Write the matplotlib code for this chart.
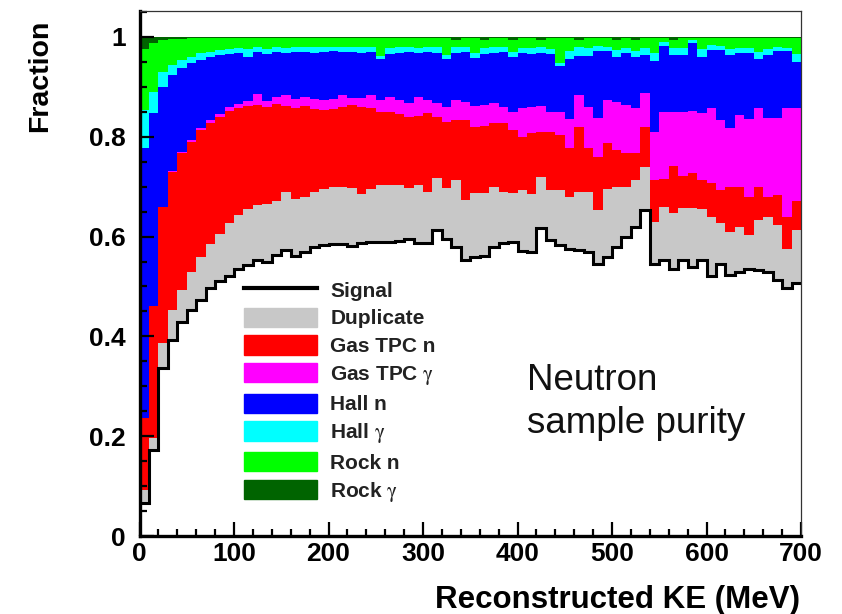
import numpy as np
import matplotlib
matplotlib.use("Agg")
import matplotlib.pyplot as plt
from matplotlib.patches import Patch
from matplotlib.lines import Line2D
from matplotlib.ticker import MultipleLocator, FuncFormatter

plt.rcParams["font.family"] = ["Liberation Sans", "DejaVu Sans"]
plt.rcParams["mathtext.fontset"] = "stix"

# 10 MeV bins from 0 to 700 MeV
bin_edges = np.arange(0, 701, 10)

# Cumulative fraction reached at the top of each stacked sample, per bin.
# Rock gamma fills the remainder up to 1.
top_signal = [
    0.067, 0.172, 0.336, 0.393, 0.429, 0.453, 0.473, 0.496, 0.510, 0.520,
    0.536, 0.543, 0.553, 0.550, 0.563, 0.573, 0.562, 0.569, 0.579, 0.583,
    0.586, 0.585, 0.582, 0.587, 0.590, 0.590, 0.590, 0.592, 0.596, 0.588,
    0.587, 0.613, 0.596, 0.580, 0.553, 0.560, 0.561, 0.580, 0.587, 0.590,
    0.572, 0.570, 0.617, 0.593, 0.583, 0.575, 0.573, 0.570, 0.546, 0.560,
    0.580, 0.600, 0.620, 0.653, 0.546, 0.553, 0.536, 0.553, 0.540, 0.553,
    0.520, 0.546, 0.523, 0.530, 0.536, 0.533, 0.530, 0.513, 0.496, 0.506,
]
top_duplicate = [
    0.092, 0.196, 0.386, 0.453, 0.493, 0.530, 0.560, 0.586, 0.606, 0.627,
    0.643, 0.655, 0.663, 0.665, 0.672, 0.690, 0.675, 0.680, 0.690, 0.695,
    0.700, 0.700, 0.697, 0.685, 0.695, 0.703, 0.703, 0.703, 0.697, 0.703,
    0.690, 0.717, 0.697, 0.714, 0.673, 0.687, 0.687, 0.700, 0.690, 0.687,
    0.693, 0.685, 0.720, 0.693, 0.693, 0.680, 0.690, 0.690, 0.653, 0.695,
    0.700, 0.700, 0.714, 0.740, 0.630, 0.660, 0.647, 0.657, 0.657, 0.655,
    0.640, 0.627, 0.610, 0.620, 0.603, 0.633, 0.640, 0.623, 0.575, 0.613,
]
top_gas_tpc_n = [
    0.236, 0.460, 0.660, 0.730, 0.767, 0.790, 0.813, 0.828, 0.840, 0.852,
    0.858, 0.862, 0.864, 0.860, 0.866, 0.862, 0.858, 0.862, 0.856, 0.853,
    0.855, 0.860, 0.864, 0.860, 0.857, 0.850, 0.850, 0.845, 0.840, 0.842,
    0.847, 0.840, 0.830, 0.834, 0.834, 0.820, 0.822, 0.827, 0.827, 0.814,
    0.800, 0.807, 0.810, 0.810, 0.804, 0.777, 0.820, 0.777, 0.760, 0.787,
    0.774, 0.767, 0.767, 0.820, 0.714, 0.715, 0.741, 0.721, 0.728, 0.714,
    0.707, 0.693, 0.700, 0.700, 0.679, 0.700, 0.679, 0.683, 0.640, 0.672,
]
top_gas_tpc_gamma = [
    0.236, 0.460, 0.660, 0.731, 0.769, 0.793, 0.817, 0.834, 0.846, 0.860,
    0.866, 0.871, 0.885, 0.872, 0.880, 0.884, 0.876, 0.880, 0.876, 0.873,
    0.876, 0.884, 0.878, 0.877, 0.884, 0.874, 0.880, 0.874, 0.867, 0.880,
    0.874, 0.867, 0.860, 0.874, 0.870, 0.862, 0.864, 0.867, 0.860, 0.850,
    0.857, 0.860, 0.862, 0.850, 0.850, 0.836, 0.884, 0.860, 0.837, 0.874,
    0.870, 0.864, 0.857, 0.887, 0.810, 0.850, 0.850, 0.850, 0.852, 0.848,
    0.857, 0.834, 0.817, 0.844, 0.836, 0.857, 0.837, 0.837, 0.857, 0.857,
]
top_hall_n = [
    0.778, 0.847, 0.900, 0.924, 0.937, 0.947, 0.954, 0.960, 0.964, 0.966,
    0.967, 0.960, 0.969, 0.965, 0.970, 0.968, 0.969, 0.970, 0.968, 0.970,
    0.971, 0.969, 0.970, 0.968, 0.969, 0.955, 0.966, 0.968, 0.970, 0.967,
    0.969, 0.968, 0.955, 0.968, 0.969, 0.958, 0.966, 0.968, 0.970, 0.960,
    0.967, 0.966, 0.968, 0.965, 0.942, 0.955, 0.962, 0.962, 0.971, 0.971,
    0.960, 0.967, 0.960, 0.964, 0.952, 0.981, 0.964, 0.964, 0.988, 0.960,
    0.974, 0.974, 0.964, 0.967, 0.967, 0.955, 0.964, 0.971, 0.971, 0.950,
]
top_hall_gamma = [
    0.854, 0.890, 0.930, 0.944, 0.954, 0.960, 0.967, 0.970, 0.974, 0.976,
    0.977, 0.976, 0.979, 0.976, 0.979, 0.978, 0.979, 0.980, 0.979, 0.980,
    0.980, 0.979, 0.980, 0.979, 0.980, 0.962, 0.978, 0.979, 0.980, 0.978,
    0.980, 0.979, 0.963, 0.979, 0.980, 0.968, 0.978, 0.979, 0.980, 0.970,
    0.978, 0.978, 0.980, 0.976, 0.948, 0.972, 0.980, 0.978, 0.981, 0.980,
    0.974, 0.978, 0.972, 0.977, 0.968, 0.990, 0.978, 0.978, 0.994, 0.975,
    0.984, 0.982, 0.976, 0.978, 0.978, 0.970, 0.976, 0.980, 0.978, 0.965,
]
top_rock_n = [
    0.975, 0.988, 0.993, 0.995, 0.996, 0.997, 0.997, 0.997, 0.997, 0.997,
    0.997, 0.997, 0.997, 0.997, 0.997, 0.997, 0.997, 0.997, 0.997, 0.997,
    0.997, 0.997, 0.997, 0.997, 0.997, 0.997, 0.997, 0.997, 0.997, 0.997,
    0.997, 0.997, 0.997, 0.993, 0.997, 0.997, 0.993, 0.997, 0.997, 0.993,
    0.997, 0.997, 0.993, 0.997, 0.997, 0.997, 0.993, 0.997, 0.997, 0.997,
    0.993, 0.997, 0.993, 0.997, 0.997, 0.997, 0.993, 0.997, 0.997, 0.997,
    0.997, 0.997, 0.997, 0.997, 0.997, 0.997, 0.997, 0.997, 0.997, 0.997,
]
top_rock_gamma = [1.0] * 70

labels = ["Signal", "Duplicate", "Gas TPC n", r"Gas TPC $\mathrm{\gamma}$",
          "Hall n", r"Hall $\mathrm{\gamma}$", "Rock n", r"Rock $\mathrm{\gamma}$"]
colors = ["white", "#c8c8c8", "#ff0000", "#ff00ff",
          "#0000ff", "#00ffff", "#00ff00", "#006400"]

fig = plt.figure(figsize=(8.42, 6.14), dpi=100)
ax = fig.add_axes([139.5 / 842, 78 / 614, 661.5 / 842, 525 / 614])

# Stack painted from the outermost layer inwards so neighbouring fills never leave seams
tops = [top_signal, top_duplicate, top_gas_tpc_n, top_gas_tpc_gamma,
        top_hall_n, top_hall_gamma, top_rock_n, top_rock_gamma]
for top, col in reversed(list(zip(tops, colors))):
    ax.stairs(np.asarray(top), bin_edges, baseline=0, fill=True,
              color=col, linewidth=0, antialiased=False)
ax.stairs(np.asarray(top_signal), bin_edges, baseline=None,
          color="black", linewidth=2.2, zorder=3)

ax.set_xlim(0, 700)
ax.set_ylim(0, 1.052)
ax.xaxis.set_major_locator(MultipleLocator(100))
ax.xaxis.set_minor_locator(MultipleLocator(20))
ax.yaxis.set_major_locator(MultipleLocator(0.2))
ax.yaxis.set_minor_locator(MultipleLocator(0.05))
fmt = FuncFormatter(lambda v, p: "%g" % round(v, 3))
ax.xaxis.set_major_formatter(fmt)
ax.yaxis.set_major_formatter(fmt)
ax.tick_params(which="both", direction="in", top=False, right=False,
               width=1.6, colors="black")
ax.tick_params(which="major", length=10)
ax.tick_params(which="minor", length=5)
ax.tick_params(axis="x", which="major", pad=4)
ax.tick_params(axis="y", which="major", pad=10)
for lab in ax.get_xticklabels() + ax.get_yticklabels():
    lab.set_fontsize(19)
    lab.set_fontweight("bold")
for side in ("left", "bottom"):
    ax.spines[side].set_linewidth(2.4)
    ax.spines[side].set_color("black")
for side in ("top", "right"):
    ax.spines[side].set_linewidth(0.9)
    ax.spines[side].set_color("#333333")
for s in ax.spines.values():
    s.set_zorder(5)

fig.text(40 / 842, 1 - 76 / 614, "Fraction", rotation=90, ha="center",
         va="center", fontsize=20.5, fontweight="bold")
fig.text(800 / 842, 1 - 600 / 614, "Reconstructed KE (MeV)", ha="right",
         va="center", fontsize=22.5, fontweight="bold")

handles = [Line2D([], [], color="black", linewidth=3)]
handles += [Patch(facecolor=c, edgecolor=c) for c in colors[1:]]
leg = ax.legend(handles, labels, loc="upper left",
                bbox_to_anchor=(244 / 842, 1 - 280 / 614),
                bbox_transform=fig.transFigure, frameon=False,
                borderpad=0, borderaxespad=0, handlelength=3.5,
                handleheight=1.05, handletextpad=0.65, labelspacing=0.33,
                prop={"size": 15, "weight": "bold"})
for t in leg.get_texts():
    t.set_color("#222222")

fig.text(527 / 842, 1 - 390 / 614, "Neutron", fontsize=26.5, va="baseline",
         ha="left", color="#111111")
fig.text(527 / 842, 1 - 433 / 614, "sample purity", fontsize=26.5,
         va="baseline", ha="left", color="#111111")

fig.savefig("out.png", dpi=100)
